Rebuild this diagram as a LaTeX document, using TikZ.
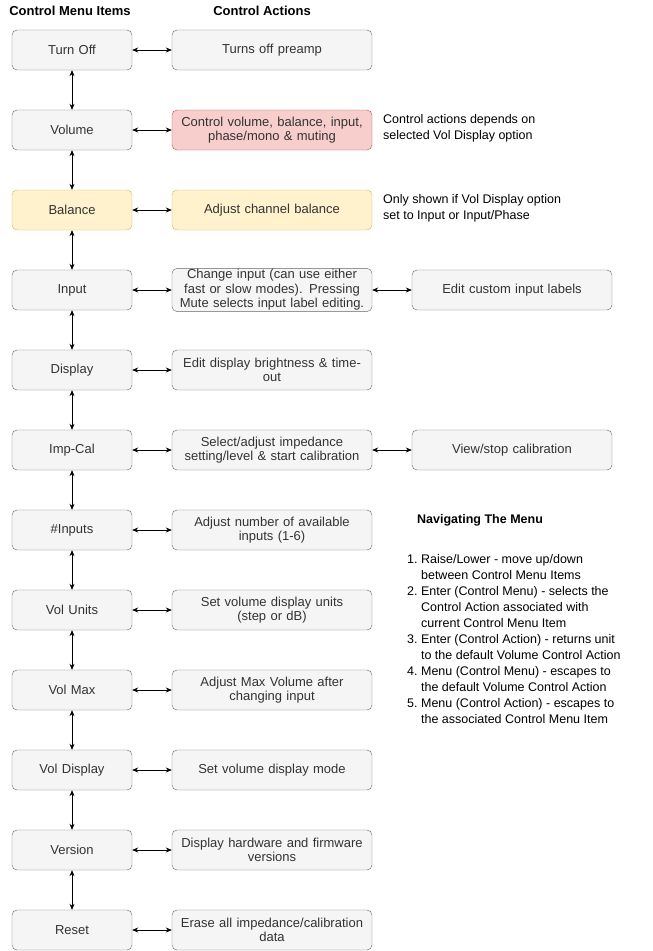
\documentclass[tikz,border=0pt]{standalone}
\usepackage{fontspec}
\setmainfont{Liberation Sans}
\usetikzlibrary{arrows.meta}
\definecolor{gfill}{HTML}{F5F5F5}\definecolor{gline}{HTML}{666666}
\definecolor{rfill}{HTML}{F8CECC}\definecolor{rline}{HTML}{B85450}
\definecolor{yfill}{HTML}{FFF2CC}\definecolor{yline}{HTML}{D6B656}
\definecolor{txt}{HTML}{333333}
\begin{document}
\begin{tikzpicture}[x=1pt,y=-1pt,
  box/.style={draw=gline,fill=gfill,rounded corners=5pt,minimum height=40pt,inner sep=1pt,align=center,font=\fontsize{13}{14.5}\selectfont,text=txt},
  lbox/.style={box,minimum width=120pt,text width=118pt},
  mbox/.style={box,minimum width=200pt,text width=198pt},
  red/.style={draw=rline,fill=rfill},
  yel/.style={draw=yline,fill=yfill},
  con/.style={{Stealth[length=6pt,width=5pt]}-{Stealth[length=6pt,width=5pt]},black,line width=0.7pt},
  note/.style={font=\fontsize{12.5}{16}\selectfont,align=left,anchor=north west,inner sep=0pt}]
\useasboundingbox (0,0) rectangle (653,951);
\node[font=\bfseries\fontsize{13}{14}\selectfont] (h1) at (70,11) {Control Menu Items};
\node[font=\bfseries\fontsize{13}{14}\selectfont] (h2) at (262,11) {Control Actions};
\foreach \i/\l/\m/\s/\t in {1/Turn Off/Turns off preamp//,
 2/Volume/{Control volume, balance, input,\\phase/mono \& muting}//red,
 3/Balance/Adjust channel balance/yel/yel,
 4/Input/{Change input (can use either\\fast or slow modes). Pressing\\Mute selects input label editing.}//,
 5/Display/{Edit display brightness \& time-\\out}//,
 6/Imp-Cal/{Select/adjust impedance\\setting/level \& start calibration}//,
 7/\#Inputs/{Adjust number of available\\inputs (1-6)}//,
 8/Vol Units/{Set volume display units\\(step or dB)}//,
 9/Vol Max/{Adjust Max Volume after\\changing input}//,
 10/Vol Display/Set volume display mode//,
 11/Version/{Display hardware and firmware\\versions}//,
 12/Reset/{Erase all impedance/calibration\\data}//}{
  \node[lbox,\s] (L\i) at (72,{50+80*(\i-1)}) {\l};
  \node[mbox,\t] (M\i) at (272,{50+80*(\i-1)}) {\m};
  \draw[con] (L\i) -- (M\i);
}
\foreach \i [evaluate=\i as \j using int(\i+1)] in {1,...,11}{\draw[con] (L\i) -- (L\j);}
\node[mbox] (R4) at (512,290) {Edit custom input labels};
\node[mbox] (R6) at (512,450) {View/stop calibration};
\draw[con] (M4) -- (R4);
\draw[con] (M6) -- (R6);
\node[note] (n1) at (383,114) {Control actions depends on\\selected Vol Display option};
\node[note] (n2) at (383,194) {Only shown if Vol Display option\\set to Input or Input/Phase};
\node[note,font=\bfseries\fontsize{12.5}{14}\selectfont] (n3) at (417,514) {Navigating The Menu};
\node[note] (n4) at (407,552) {%
\begin{tabular}{@{}r@{\ }l@{}}
1.&Raise/Lower - move up/down\\
&between Control Menu Items\\
2.&Enter (Control Menu) - selects the\\
&Control Action associated with\\
&current Control Menu Item\\
3.&Enter (Control Action) - returns unit\\
&to the default Volume Control Action\\
4.&Menu (Control Menu) - escapes to\\
&the default Volume Control Action\\
5.&Menu (Control Action) - escapes to\\
&the associated Control Menu Item
\end{tabular}};
\end{tikzpicture}
\end{document}
